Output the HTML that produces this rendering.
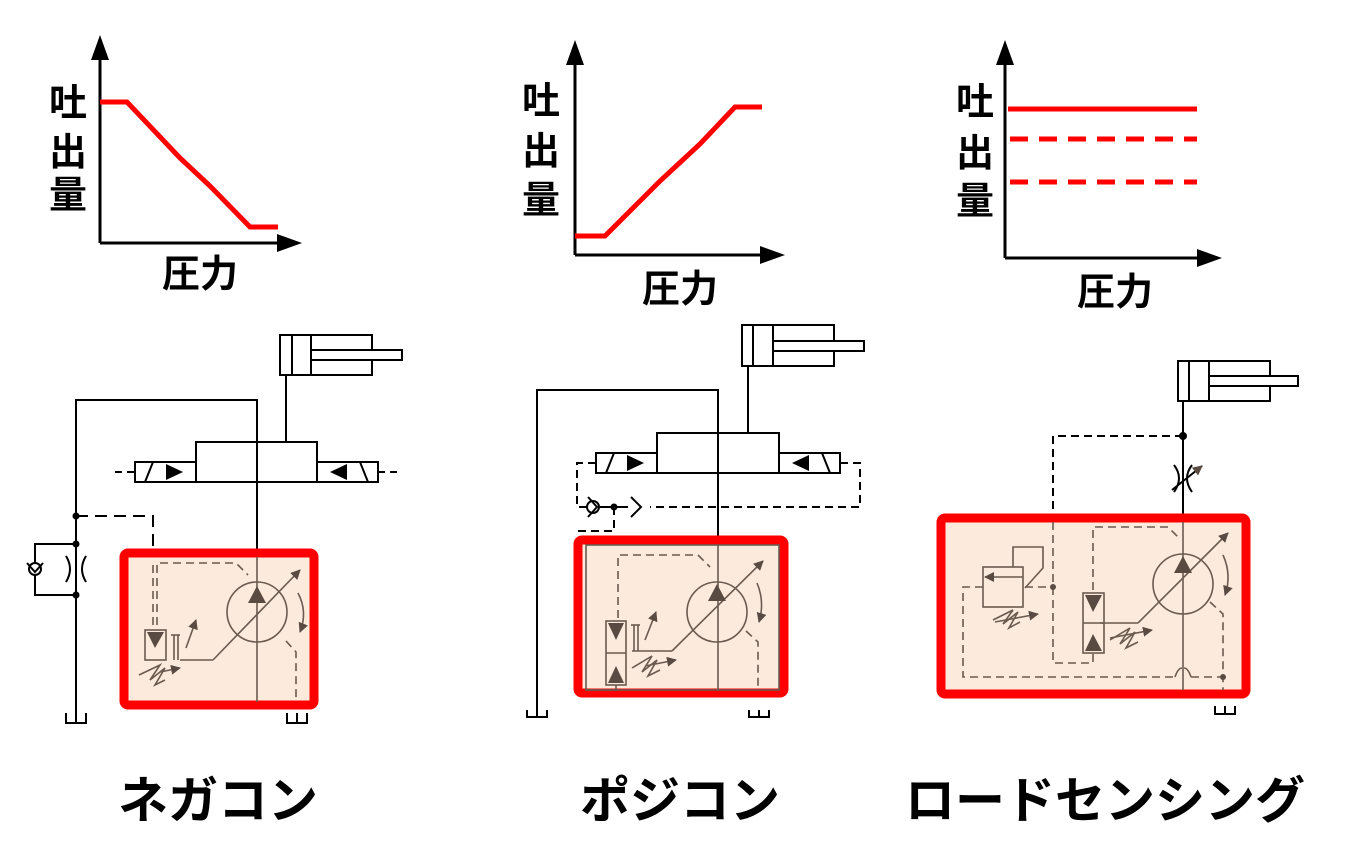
<!DOCTYPE html>
<html><head><meta charset="utf-8"><style>
html,body{margin:0;padding:0;background:#fff;width:1354px;height:868px;overflow:hidden}
svg{display:block}
text{font-family:"Liberation Sans","Noto Sans CJK JP",sans-serif;font-weight:bold}
</style></head><body>
<svg width="1354" height="868" viewBox="0 0 1354 868" xmlns="http://www.w3.org/2000/svg">
<defs>
<marker id="ar" markerWidth="10" markerHeight="10" refX="9" refY="5" orient="auto" markerUnits="userSpaceOnUse"><path d="M0,0 L10,5 L0,10 z" fill="#5a4b42"/></marker>
</defs>
<!-- Graph 1 -->
<g fill="#000">
<line x1="100" y1="55" x2="100" y2="243" stroke="#000" stroke-width="3"/>
<polygon points="100,35 91,60 109,60"/>
<line x1="100" y1="243" x2="282" y2="243" stroke="#000" stroke-width="3"/>
<polygon points="302,243 277,234 277,252"/>
<text x="68" y="116" font-size="38" text-anchor="middle">吐</text>
<text x="68" y="165" font-size="38" text-anchor="middle">出</text>
<text x="68" y="208" font-size="38" text-anchor="middle">量</text>
<text x="200" y="287" font-size="38" text-anchor="middle">圧力</text>
</g>
<polyline points="100,102 127,102 180,158 210,186 250,227 278,227" fill="none" stroke="#f00" stroke-width="5"/>
<!-- Graph 2 -->
<g fill="#000">
<line x1="575" y1="60" x2="575" y2="255" stroke="#000" stroke-width="3"/>
<polygon points="575,40 566,65 584,65"/>
<line x1="575" y1="255" x2="765" y2="255" stroke="#000" stroke-width="3"/>
<polygon points="785,255 760,246 760,264"/>
<text x="541" y="114" font-size="38" text-anchor="middle">吐</text>
<text x="541" y="164" font-size="38" text-anchor="middle">出</text>
<text x="541" y="213" font-size="38" text-anchor="middle">量</text>
<text x="680" y="302" font-size="38" text-anchor="middle">圧力</text>
</g>
<polyline points="575,236 605,236 660,181 700,144 735,107 762,107" fill="none" stroke="#f00" stroke-width="5"/>
<!-- Graph 3 -->
<g fill="#000">
<line x1="1005" y1="60" x2="1005" y2="258" stroke="#000" stroke-width="3"/>
<polygon points="1005,40 996,65 1014,65"/>
<line x1="1005" y1="258" x2="1202" y2="258" stroke="#000" stroke-width="3"/>
<polygon points="1222,258 1197,249 1197,267"/>
<text x="975" y="115" font-size="38" text-anchor="middle">吐</text>
<text x="975" y="166" font-size="38" text-anchor="middle">出</text>
<text x="975" y="214" font-size="38" text-anchor="middle">量</text>
<text x="1115" y="305" font-size="38" text-anchor="middle">圧力</text>
</g>
<line x1="1008" y1="109" x2="1197" y2="109" stroke="#f00" stroke-width="5"/>
<line x1="1010" y1="139" x2="1197" y2="139" stroke="#f00" stroke-width="5" stroke-dasharray="18,11"/>
<line x1="1010" y1="182" x2="1197" y2="182" stroke="#f00" stroke-width="5" stroke-dasharray="18,11"/>

<!-- ===== Circuit 1 ===== -->
<g fill="none" stroke="#000" stroke-width="2">
<rect x="280" y="335" width="92" height="40" fill="#fff"/>
<line x1="292" y1="335" x2="292" y2="375"/><line x1="311" y1="335" x2="311" y2="375"/>
<rect x="311" y="350" width="91" height="10" fill="#fff"/>
<line x1="286" y1="375" x2="286" y2="442"/>
<rect x="196" y="442" width="121" height="40"/>
<rect x="135" y="462" width="61" height="20"/>
<rect x="317" y="462" width="61" height="20"/>
<line x1="145" y1="482" x2="153" y2="462"/><line x1="368" y1="482" x2="360" y2="462"/>
<line x1="115" y1="472" x2="135" y2="472" stroke-dasharray="7,5"/>
<line x1="378" y1="472" x2="398" y2="472" stroke-dasharray="7,5"/>
<polyline points="76,720 76,400 257,400 257,552"/>
<polyline points="76,516 153,516 153,550" stroke-dasharray="12,7"/>
<polyline points="76,544 35,544 35,595 76,595"/>
<circle cx="35" cy="569" r="6" fill="#fff"/>
<polyline points="27,563 35,572 43,563"/>
<path d="M66,556 Q74,569 66,582"/><path d="M86,556 Q78,569 86,582"/>
<polyline points="66,713 66,723 86,723 86,713"/><line x1="76" y1="713" x2="76" y2="723"/>
<polyline points="287,713 287,723 307,723 307,713"/><line x1="297" y1="713" x2="297" y2="723"/>
</g>
<g fill="#000"><polygon points="166,464 166,480 183,472"/><polygon points="347,464 347,480 330,472"/>
<circle cx="76" cy="516" r="3.5"/><circle cx="76" cy="544" r="3.5"/><circle cx="76" cy="595" r="3.5"/></g>
<rect x="124" y="553" width="190" height="152" rx="4" fill="#fcebdd" stroke="#f00" stroke-width="9"/>
<g fill="none" stroke="#6a5a4f" stroke-width="1.6">
<line x1="257" y1="557" x2="257" y2="702"/>
<circle cx="257" cy="612" r="30"/>
<line x1="213" y1="660" x2="300" y2="570" marker-end="url(#ar)"/>
<polyline points="213,660 192,660 180,660"/>
<path d="M298,593 Q308,612 300,632" marker-end="url(#ar)"/>
<polyline points="286,641 296,652 296,702" stroke-dasharray="8,5"/>
<polyline points="157,625 157,563 236,563 248,575" stroke-dasharray="8,5"/>
<polyline points="153,625 153,563" stroke-dasharray="8,5"/>
<rect x="145" y="630" width="21" height="30"/>
<line x1="171" y1="635" x2="180" y2="635"/><line x1="174" y1="635" x2="174" y2="660"/><line x1="178" y1="635" x2="178" y2="660"/>
<line x1="186" y1="648" x2="196" y2="620" marker-end="url(#ar)"/>
<polyline points="139,675 160,665 150,680 165,668 155,685 165,680" />
<line x1="160" y1="672" x2="180" y2="668" marker-end="url(#ar)"/>
</g>
<g fill="#5a4b42"><polygon points="248,603 266,603 257,586"/><polygon points="147,632 164,632 155,648"/></g>

<!-- ===== Circuit 2 ===== -->
<g fill="none" stroke="#000" stroke-width="2">
<rect x="742" y="325" width="92" height="41" fill="#fff"/>
<line x1="753" y1="325" x2="753" y2="366"/><line x1="773" y1="325" x2="773" y2="366"/>
<rect x="773" y="341" width="91" height="10" fill="#fff"/>
<line x1="748" y1="366" x2="748" y2="433"/>
<rect x="657" y="433" width="122" height="40"/>
<rect x="596" y="453" width="61" height="20"/>
<rect x="779" y="453" width="61" height="20"/>
<line x1="606" y1="473" x2="614" y2="453"/><line x1="830" y1="473" x2="822" y2="453"/>
<polyline points="537,715 537,390 718,390 718,536"/>
<polyline points="596,463 577,463 577,507 586,507" stroke-dasharray="8,5"/>
<polyline points="840,463 860,463 860,507 650,507" stroke-dasharray="8,5"/>
<line x1="600" y1="507" x2="628" y2="507"/>
<circle cx="593" cy="507" r="6" fill="#fff"/>
<polyline points="588,497 597,507 588,517"/>
<polyline points="631,497 641,507 631,517"/>
<polyline points="614,507 614,531 575,531" stroke-dasharray="8,5"/>
<polyline points="527,710 527,717 547,717 547,710"/><line x1="537" y1="710" x2="537" y2="717"/>
<polyline points="749,710 749,717 769,717 769,710"/><line x1="759" y1="710" x2="759" y2="717"/>
</g>
<g fill="#000"><polygon points="627,455 627,471 644,463"/><polygon points="809,455 809,471 792,463"/><circle cx="614" cy="507" r="3.5"/></g>
<rect x="578" y="540" width="206" height="153" rx="4" fill="#fcebdd" stroke="#f00" stroke-width="9"/>
<g fill="none" stroke="#6a5a4f" stroke-width="1.6">
<rect x="586" y="545" width="193" height="145"/>
<line x1="718" y1="545" x2="718" y2="690"/>
<circle cx="717" cy="612" r="30"/>
<line x1="672" y1="651" x2="763" y2="561" marker-end="url(#ar)"/>
<line x1="672" y1="651" x2="632" y2="651"/>
<path d="M757,583 Q765,602 759,622" marker-end="url(#ar)"/>
<polyline points="746,631 758,642 758,690" stroke-dasharray="8,5"/>
<polyline points="618,618 618,555 698,555 710,567" stroke-dasharray="8,5"/>
<rect x="606" y="621" width="20" height="64"/>
<line x1="606" y1="653" x2="626" y2="653"/>
<line x1="631" y1="625" x2="640" y2="625"/><line x1="634" y1="625" x2="634" y2="651"/><line x1="638" y1="625" x2="638" y2="651"/>
<line x1="645" y1="640" x2="656" y2="612" marker-end="url(#ar)"/>
<polyline points="632,668 652,656 642,672 657,660 648,676 660,670"/>
<line x1="645" y1="666" x2="676" y2="660" marker-end="url(#ar)"/>
<polyline points="616,685 616,690 586,690"/>
</g>
<g fill="#5a4b42"><polygon points="708,601 726,601 717,584"/><polygon points="608,623 624,623 616,640"/><polygon points="608,683 624,683 616,666"/></g>

<!-- ===== Circuit 3 ===== -->
<g fill="none" stroke="#000" stroke-width="2">
<rect x="1178" y="361" width="92" height="40" fill="#fff"/>
<line x1="1189" y1="361" x2="1189" y2="401"/><line x1="1209" y1="361" x2="1209" y2="401"/>
<rect x="1209" y="376" width="89" height="10" fill="#fff"/>
<line x1="1183" y1="401" x2="1183" y2="518"/>
<polyline points="1183,436 1053,436 1053,518" stroke-dasharray="8,5"/>
<path d="M1174,465 Q1184,478 1174,492"/><path d="M1192,465 Q1182,478 1192,492"/>
<line x1="1172" y1="490" x2="1202" y2="466" marker-end="url(#ar)"/>
<polyline points="1215,706 1215,714 1235,714 1235,706"/><line x1="1225" y1="706" x2="1225" y2="714"/>
</g>
<circle cx="1183" cy="436" r="4" fill="#000"/>
<rect x="941" y="518" width="305" height="176" rx="4" fill="#fcebdd" stroke="#f00" stroke-width="9"/>
<g fill="none" stroke="#6a5a4f" stroke-width="1.6">
<line x1="1183" y1="522" x2="1183" y2="690"/>
<circle cx="1183" cy="584" r="30"/>
<line x1="1138" y1="623" x2="1228" y2="533" marker-end="url(#ar)"/>
<line x1="1138" y1="623" x2="1100" y2="623"/>
<path d="M1223,555 Q1232,575 1225,595" marker-end="url(#ar)"/>
<polyline points="1210,602 1223,614 1223,690" stroke-dasharray="8,5"/>
<polyline points="1093,590 1093,527 1168,527 1180,539" stroke-dasharray="8,5"/>
<polyline points="1053,522 1053,663 1093,663 1093,653"  stroke-dasharray="8,5"/>
<rect x="1083" y="593" width="21" height="60"/>
<line x1="1083" y1="623" x2="1104" y2="623"/>
<polyline points="1110,640 1130,628 1120,644 1135,632 1126,648 1138,642"/>
<line x1="1110" y1="638" x2="1152" y2="630" marker-end="url(#ar)"/>
<rect x="983" y="567" width="40" height="40"/>
<line x1="1023" y1="577" x2="985" y2="577" marker-end="url(#ar)"/>
<polyline points="1013,567 1013,547 1043,547 1043,568 1025,588"/>
<line x1="1025" y1="587" x2="1053" y2="587" stroke-dasharray="8,5"/>
<polyline points="983,587 963,587 963,677 1175,677" stroke-dasharray="8,5"/>
<path d="M1175,677 Q1178,668 1182,668"/><path d="M1191,677 Q1188,668 1184,668"/>
<polyline points="1191,677 1223,677" stroke-dasharray="8,5"/>
<polyline points="993,620 1013,610 1003,624 1018,612 1009,628 1020,622"/>
<line x1="995" y1="622" x2="1038" y2="614" marker-end="url(#ar)"/>
</g>
<g fill="#5a4b42"><polygon points="1174,573 1192,573 1183,556"/><polygon points="1085,595 1102,595 1093,612"/><polygon points="1085,651 1102,651 1093,634"/>
<circle cx="1053" cy="587" r="3"/><circle cx="1223" cy="677" r="3"/></g>

<!-- bottom labels -->
<text x="218" y="818" font-size="50" text-anchor="middle" fill="#000">ネガコン</text>
<text x="680" y="818" font-size="50" text-anchor="middle" fill="#000">ポジコン</text>
<text x="1105" y="818" font-size="50" text-anchor="middle" fill="#000">ロードセンシング</text>
</svg>
</body></html>
